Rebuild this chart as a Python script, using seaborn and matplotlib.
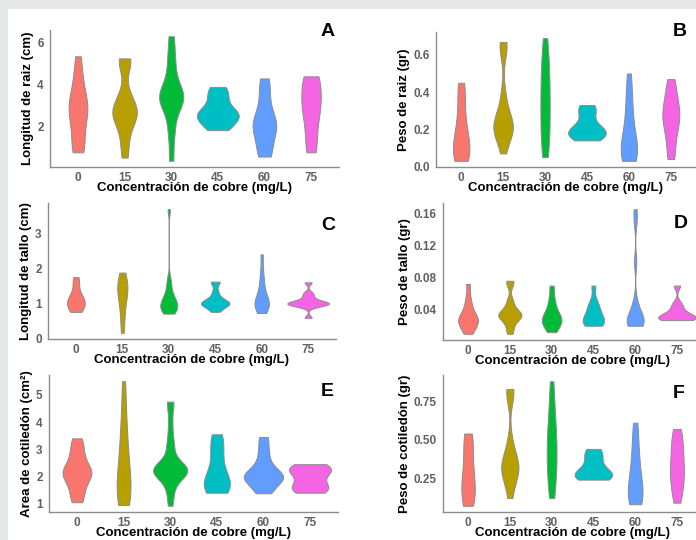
import numpy as np
import pandas as pd
import matplotlib
matplotlib.use("Agg")
import matplotlib.pyplot as plt
from matplotlib.patches import Rectangle
import seaborn as sns

# concentraciones de cobre (mg/L)
conc = ["0", "15", "30", "45", "60", "75"]
colores = ["#F8766D", "#B79F00", "#00BA38", "#00BFC4", "#619CFF", "#F564E3"]

# A - longitud de raiz (cm)
raiz_long = {
    "0": [0.8, 0.9, 1.2, 1.8, 2.3, 2.6, 2.8, 3.0, 3.2, 3.5, 4.0, 4.6, 5.35],
    "15": [0.55, 1.2, 1.8, 2.2, 2.5, 2.6, 2.7, 2.8, 3.0, 3.3, 3.7, 5.0, 5.1, 5.25],
    "30": [0.4, 1.5, 2.2, 2.8, 3.1, 3.3, 3.4, 3.5, 3.6, 3.9, 4.3, 4.9, 5.5, 6.3],
    "45": [1.85, 2.1, 2.3, 2.5, 2.6, 2.7, 2.8, 3.3, 3.6, 3.9],
    "60": [0.6, 0.7, 0.9, 1.3, 1.7, 1.9, 2.0, 2.1, 2.2, 2.4, 2.7, 3.1, 3.6, 4.1, 4.3],
    "75": [0.8, 0.9, 1.5, 2.0, 2.5, 2.8, 3.0, 3.2, 3.5, 3.9, 4.2, 4.35, 4.4],
}
# B - peso de raiz (gr)
raiz_peso = {
    "0": [0.03, 0.04, 0.05, 0.07, 0.09, 0.12, 0.15, 0.18, 0.22, 0.28, 0.35, 0.42, 0.45],
    "15": [0.07, 0.14, 0.17, 0.19, 0.2, 0.21, 0.22, 0.23, 0.25, 0.28, 0.33, 0.4, 0.62, 0.65, 0.67],
    "30": [0.05, 0.1, 0.15, 0.2, 0.25, 0.3, 0.35, 0.4, 0.45, 0.5, 0.55, 0.62, 0.69],
    "45": [0.14, 0.16, 0.17, 0.18, 0.19, 0.2, 0.22, 0.28, 0.31, 0.33],
    "60": [0.03, 0.04, 0.05, 0.08, 0.1, 0.12, 0.15, 0.2, 0.26, 0.33, 0.4, 0.5],
    "75": [0.04, 0.06, 0.12, 0.17, 0.2, 0.23, 0.25, 0.27, 0.29, 0.31, 0.33, 0.36, 0.4, 0.44, 0.47],
}
# C - longitud de tallo (cm)
tallo_long = {
    "0": [0.75, 0.78, 0.85, 0.95, 1.0, 1.05, 1.1, 1.15, 1.25, 1.4, 1.6, 1.75],
    "15": [0.15, 0.5, 0.8, 1.0, 1.2, 1.3, 1.4, 1.5, 1.6, 1.75, 1.88],
    "30": [0.7, 0.75, 0.8, 0.85, 0.9, 0.95, 1.0, 1.05, 1.1, 1.2, 1.3, 1.5, 1.7, 3.7],
    "45": [0.75, 0.85, 0.92, 0.96, 0.98, 1.0, 1.02, 1.05, 1.1, 1.2, 1.35, 1.6, 1.62],
    "60": [0.72, 0.8, 0.9, 0.95, 1.0, 1.05, 1.1, 1.2, 1.4, 1.6, 1.9, 2.4],
    "75": [0.58, 0.9, 0.95, 0.97, 0.98, 1.0, 1.02, 1.05, 1.1, 1.2, 1.3, 1.6],
}
# D - peso de tallo (gr)
tallo_peso = {
    "0": [0.01, 0.015, 0.02, 0.023, 0.025, 0.028, 0.03, 0.033, 0.038, 0.045, 0.055, 0.072],
    "15": [0.01, 0.018, 0.025, 0.03, 0.032, 0.033, 0.034, 0.035, 0.038, 0.045, 0.052, 0.072, 0.076],
    "30": [0.012, 0.018, 0.022, 0.025, 0.027, 0.03, 0.033, 0.038, 0.045, 0.055, 0.07],
    "45": [0.02, 0.022, 0.024, 0.026, 0.028, 0.032, 0.038, 0.045, 0.048, 0.07],
    "60": [0.02, 0.021, 0.022, 0.024, 0.025, 0.027, 0.03, 0.035, 0.04, 0.05, 0.1, 0.15, 0.165],
    "75": [0.027, 0.028, 0.029, 0.03, 0.031, 0.033, 0.036, 0.042, 0.048, 0.07],
}
# E - area de cotiledon (cm2)
cot_area = {
    "0": [1.05, 1.3, 1.6, 1.9, 2.0, 2.1, 2.2, 2.3, 2.5, 2.8, 3.1, 3.4],
    "15": [0.95, 1.1, 1.3, 1.5, 1.8, 2.1, 2.5, 3.0, 3.6, 4.3, 5.5],
    "30": [0.92, 1.3, 1.6, 1.85, 2.0, 2.1, 2.15, 2.18, 2.2, 2.22, 2.25, 2.28, 2.3,
           2.35, 2.45, 2.6, 3.05, 3.15, 3.6, 4.1, 4.7, 4.75],
    "45": [1.4, 1.5, 1.6, 1.7, 1.8, 1.9, 2.2, 2.6, 3.0, 3.3, 3.55],
    "60": [1.38, 1.6, 1.8, 1.9, 2.0, 2.05, 2.1, 2.3, 2.6, 3.0, 3.45],
    "75": [1.4, 1.5, 1.6, 1.65, 1.9, 2.1, 2.2, 2.3, 2.35, 2.45],
}
# F - peso de cotiledon (gr)
cot_peso = {
    "0": [0.07, 0.09, 0.12, 0.16, 0.2, 0.24, 0.28, 0.33, 0.4, 0.47, 0.52, 0.54],
    "15": [0.12, 0.2, 0.25, 0.28, 0.3, 0.32, 0.33, 0.35, 0.38, 0.42, 0.5, 0.78, 0.81, 0.83],
    "30": [0.12, 0.18, 0.25, 0.3, 0.35, 0.4, 0.45, 0.5, 0.55, 0.6, 0.68, 0.78, 0.88],
    "45": [0.24, 0.25, 0.26, 0.27, 0.28, 0.3, 0.33, 0.38, 0.41, 0.44],
    "60": [0.08, 0.09, 0.11, 0.14, 0.17, 0.2, 0.25, 0.3, 0.36, 0.43, 0.52, 0.61],
    "75": [0.09, 0.13, 0.18, 0.22, 0.25, 0.28, 0.31, 0.34, 0.38, 0.42, 0.46, 0.5, 0.54, 0.57],
}


def nrd0(kde):
    # ancho de banda como bw.nrd0 de R
    x = kde.dataset[0]
    sd = np.std(x, ddof=1)
    iqr = np.subtract(*np.percentile(x, [75, 25]))
    lo = min(sd, iqr / 1.34) if iqr > 0 else sd
    return 0.9 * lo * len(x) ** -0.2 / sd


def to_df(d):
    rows = [(k, v) for k in conc for v in d[k]]
    return pd.DataFrame(rows, columns=["conc", "valor"])


paneles = [
    (raiz_long, "Longitud de raiz (cm)", "A", [2, 4, 6], None, (50, 30, 339, 167)),
    (raiz_peso, "Peso de raiz (gr)", "B", [0.0, 0.2, 0.4, 0.6], "%.1f", (436, 32, 696, 167)),
    (tallo_long, "Longitud de tallo (cm)", "C", [0, 1, 2, 3], None, (48, 203, 336, 339)),
    (tallo_peso, "Peso de tallo (gr)", "D", [0.04, 0.08, 0.12, 0.16], "%.2f", (443, 203, 702, 340)),
    (cot_area, "Area de cotiledón (cm²)", "E", [1, 2, 3, 4, 5], None, (49, 375, 338, 512)),
    (cot_peso, "Peso de cotiledón (gr)", "F", [0.25, 0.50, 0.75], "%.2f", (443, 375, 702, 512)),
]
letras_xy = {"A": (328, 32), "B": (680, 32), "C": (328, 225),
             "D": (681, 223), "E": (327, 392), "F": (679, 393)}

sns.set_style("white")
plt.rcParams["font.family"] = ["Liberation Sans", "DejaVu Sans"]

W, H = 696, 540
fig = plt.figure(figsize=(W / 100, H / 100), dpi=100, facecolor="#e6e7e9")
fig.patches.append(Rectangle((8 / W, 0), 1, (H - 9) / H, transform=fig.transFigure,
                             facecolor="white", edgecolor="none", zorder=-10))

for datos, ylab, letra, yt, fmt, (x0, y0, x1, y1) in paneles:
    ax = fig.add_axes([x0 / W, (H - y1) / H, (x1 - x0) / W, (y1 - y0) / H])
    ax.set_facecolor("none")
    df = to_df(datos)
    sns.violinplot(data=df, x="conc", y="valor", hue="conc", order=conc, hue_order=conc,
                   palette=colores, legend=False, inner=None, cut=0, width=0.9,
                   density_norm="area", common_norm=True, bw_method=nrd0,
                   linewidth=0.7, linecolor="#8c8c8c", saturation=1, ax=ax)
    vmin, vmax = df["valor"].min(), df["valor"].max()
    pad = (vmax - vmin) * 0.05
    ax.set_ylim(vmin - pad, vmax + pad)
    ax.set_xlim(-0.6, 5.6)
    ax.set_yticks(yt)
    if fmt:
        ax.set_yticklabels([fmt % t for t in yt])
    for s in ["top", "right"]:
        ax.spines[s].set_visible(False)
    for s in ["left", "bottom"]:
        ax.spines[s].set_color("#8c8c8c")
        ax.spines[s].set_linewidth(1.0)
    ax.tick_params(axis="both", colors="#8c8c8c", length=2.5, width=0.8, pad=2,
                   labelsize=8.5, labelcolor="#606060")
    ax.tick_params(axis="x", pad=1)
    for t in ax.get_xticklabels() + ax.get_yticklabels():
        t.set_fontweight("bold")
    ax.set_xlabel("Concentración de cobre (mg/L)", fontsize=9.5, fontweight="bold",
                  color="black", labelpad=-1)
    ax.set_ylabel(ylab, fontsize=9.5, fontweight="bold", color="black", labelpad=2)
    lx, ly = letras_xy[letra]
    fig.text(lx / W, 1 - ly / H, letra, fontsize=14, fontweight="bold",
             ha="center", va="center", color="black")

fig.savefig("out.png", dpi=100, facecolor=fig.get_facecolor())
